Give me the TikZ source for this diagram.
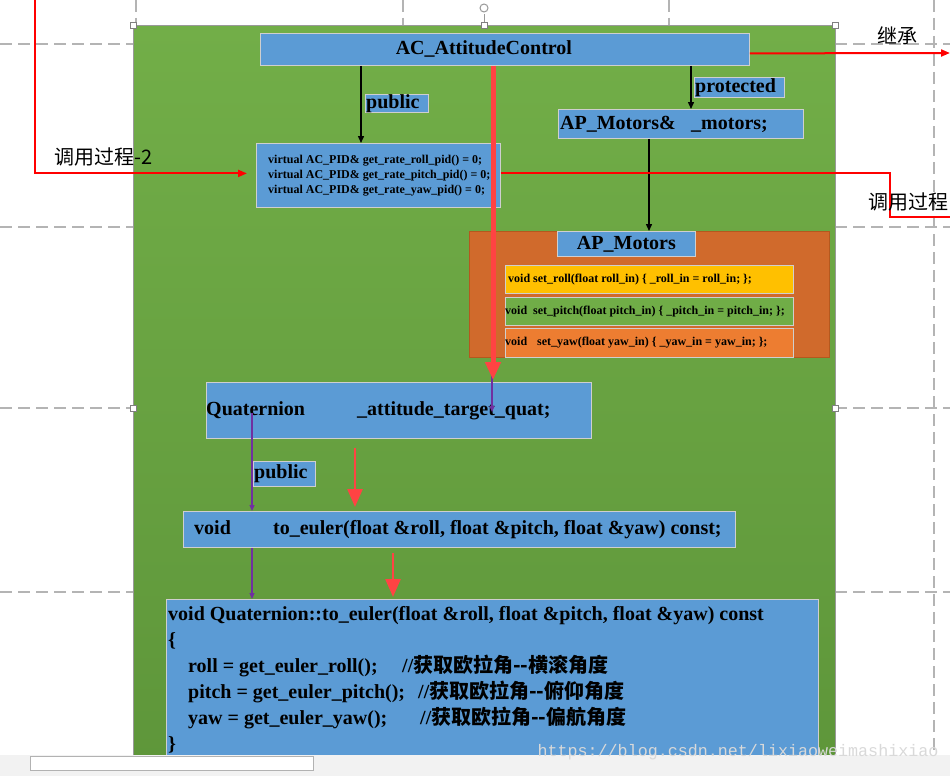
\documentclass[tikz,border=0pt]{standalone}
\usepackage{fontspec}
\setmainfont{Liberation Serif}
\setmonofont{Liberation Mono}
\newfontfamily\cjkfont{Noto Sans CJK SC}
\usetikzlibrary{arrows.meta,positioning,calc}
\definecolor{boxblue}{HTML}{5B9BD5}
\definecolor{boxedge}{HTML}{CFCFCF}
\definecolor{leafhi}{HTML}{72AE48}
\definecolor{leaflo}{HTML}{5E963A}
\definecolor{rustbox}{HTML}{D06A2C}
\definecolor{rustedge}{HTML}{B4581E}
\definecolor{rollyellow}{HTML}{FFC000}
\definecolor{pitchgreen}{HTML}{70AD47}
\definecolor{yaworange}{HTML}{ED7D31}
\definecolor{callred}{HTML}{FF0000}
\definecolor{flowred}{HTML}{FF4343}
\definecolor{linkpurple}{HTML}{7030A0}
\definecolor{pagegray}{HTML}{B4B4B4}
\definecolor{stripgray}{HTML}{F2F2F2}

\begin{document}
\begin{tikzpicture}[x=1pt, y=-1pt,
    umlbox/.style={rectangle, draw=boxedge, fill=boxblue, line width=0.8pt,
                   anchor=north west, inner sep=0pt},
    setter/.style={rectangle, draw=boxedge, fill=#1, line width=0.8pt,
                   anchor=north west, inner sep=0pt,
                   minimum width=288pt, minimum height=28pt},
    canvas/.style={rectangle, draw=gray!80, line width=0.8pt, anchor=north west,
                   inner sep=0pt, top color=leafhi, bottom color=leaflo},
    codetext/.style={inner sep=0pt, anchor=west, align=left,
                     font=\fontsize{20}{26}\selectfont\bfseries},
    smalltext/.style={inner sep=0pt, anchor=west, align=left,
                      font=\fontsize{12}{15}\selectfont\bfseries},
    cjklabel/.style={inner sep=0pt, font=\fontsize{20}{24}\selectfont\cjkfont},
    member/.style={-{Triangle[length=7pt,width=6pt]}, line width=1.4pt, black},
    access/.style={-{Triangle[length=6pt,width=5pt]}, line width=1.2pt, linkpurple},
    callpath/.style={line width=2pt, callred},
    call/.style={callpath, -{Triangle[length=9pt,width=7pt]}},
    flow/.style={-{Triangle[length=18pt,width=15pt]}, line width=#1, flowred},
    guide/.style={pagegray, line width=1.2pt, dash pattern=on 12pt off 6pt},
    handle/.style={rectangle, draw=gray, fill=white, line width=0.6pt,
                   minimum size=6pt, inner sep=0pt},
]
    \useasboundingbox (0,0) rectangle (950,776);
    \fill[white] (0,0) rectangle (950,776);

    % Page guides
    \foreach \y in {44,227,408,592} {
        \draw[guide] (0,\y) -- (133,\y);
        \draw[guide] (835,\y) -- (950,\y);
    }
    \foreach \x in {136,403,669}
        \draw[guide] (\x,0) -- (\x,25);
    \draw[guide] (934,0) -- (934,755);

    % Canvas
    \node[canvas, minimum width=702pt, minimum height=740pt] (canvas) at (133,25) {};

    % AC_AttitudeControl and its members
    \node[umlbox, minimum width=489pt, minimum height=32pt] (acc) at (260,33) {};
    \node[codetext, anchor=center] (acctitle) at ([xshift=-21pt]acc.center) {AC\_AttitudeControl};

    \node[umlbox, minimum width=244pt, minimum height=64pt] (vpid) at (256,143) {};
    \node[smalltext, right=12pt of vpid.west] (vpidtext)
        {virtual AC\_PID\& get\_rate\_roll\_pid() = 0;\\
         virtual AC\_PID\& get\_rate\_pitch\_pid() = 0;\\
         virtual AC\_PID\& get\_rate\_yaw\_pid() = 0;};

    \node[umlbox, minimum width=63pt, minimum height=18pt] (pubtag) at (365,94) {};
    \node[codetext, right=1pt of pubtag.west] (pubtext) {public};

    \node[umlbox, minimum width=90pt, minimum height=20pt] (prottag) at (694,77) {};
    \node[codetext, right=1pt of prottag.west] (prottext) {protected};

    \node[umlbox, minimum width=245pt, minimum height=29pt] (motref) at (558,109) {};
    \node[codetext, right=2pt of motref.west] (motreftext)
        {\makebox[131pt][l]{AP\_Motors\&}\_motors;};

    % AP_Motors
    \node[rectangle, draw=rustedge, fill=rustbox, line width=0.8pt, anchor=north west,
          minimum width=360pt, minimum height=126pt, inner sep=0pt] (motors) at (469,231) {};
    \node[umlbox, minimum width=138pt, minimum height=25pt] (motorstag) at (557,231) {};
    \node[codetext, anchor=center] (motorstext) at (motorstag.center) {AP\_Motors};

    \node[setter=rollyellow] (roll) at (505,265) {};
    \node[smalltext, right=3pt of roll.west] (rolltext)
        {void set\_roll(float roll\_in) \{ \_roll\_in = roll\_in; \};};
    \node[setter=pitchgreen] (pitch) at (505,297) {};
    \node[smalltext, right=0pt of pitch.west] (pitchtext)
        {\makebox[28pt][l]{void}set\_pitch(float pitch\_in) \{ \_pitch\_in = pitch\_in; \};};
    \node[setter=yaworange, minimum height=29pt] (yaw) at (505,328) {};
    \node[smalltext, right=0pt of yaw.west] (yawtext)
        {\makebox[32pt][l]{void}set\_yaw(float yaw\_in) \{ \_yaw\_in = yaw\_in; \};};

    % Quaternion
    \node[umlbox, minimum width=385pt, minimum height=56pt] (quat) at (206,382) {};
    \node[codetext, right=0pt of quat.west] (quattext)
        {\makebox[151pt][l]{Quaternion}\_attitude\_target\_quat;};

    \node[umlbox, minimum width=62pt, minimum height=25pt] (pubtag2) at (253,461) {};
    \node[codetext, right=1pt of pubtag2.west] (pubtext2) {public};

    \node[umlbox, minimum width=552pt, minimum height=36pt] (tone) at (183,511) {};
    \node[codetext, right=11pt of tone.west] (tonetext)
        {\makebox[79pt][l]{void}to\_euler(float \&roll, float \&pitch, float \&yaw) const;};

    \node[umlbox, minimum width=652pt, minimum height=170pt] (code) at (166,599) {};
    \node[codetext, anchor=north west] (codetext) at (168,606)
        {void Quaternion::to\_euler(float \&roll, float \&pitch, float \&yaw) const\\
         \{\\
         \hspace*{20pt}\makebox[214pt][l]{roll = get\_euler\_roll();}//{\cjkfont 获取欧拉角-{}-横滚角度}\\
         \hspace*{20pt}\makebox[230pt][l]{pitch = get\_euler\_pitch();}//{\cjkfont 获取欧拉角-{}-俯仰角度}\\
         \hspace*{20pt}\makebox[232pt][l]{yaw = get\_euler\_yaw();}//{\cjkfont 获取欧拉角-{}-偏航角度}\\
         \}};

    % Members
    \coordinate (pubx) at (361,0);
    \coordinate (protx) at (691,0);
    \coordinate (motx) at (649,0);
    \draw[member] (acc.south -| pubx) -- (vpid.north -| pubx);
    \draw[member] (acc.south -| protx) -- (motref.north -| protx);
    \draw[member] (motref.south -| motx) -- (motors.north -| motx);

    % Access path
    \coordinate (quatx) at (492,0);
    \coordinate (quatin) at (492,412);
    \coordinate (eulerin) at (252,413);
    \draw[access] (acc.south -| quatx) -- (quatin);
    \draw[access] (eulerin) -- (tone.north -| eulerin);
    \draw[access] (tone.south -| eulerin) -- (code.north -| eulerin);

    % Call flow
    \coordinate (flowx) at (493,0);
    \coordinate (flowa) at (355,448);
    \coordinate (flowb) at (393,553);
    \draw[flow=5pt] (acc.south -| flowx) -- ($(quat.north -| flowx)+(0,-2)$);
    \draw[flow=2.5pt] (flowa) -- ($(tone.north -| flowa)+(0,-4)$);
    \draw[flow=2.5pt] (flowb) -- ($(code.north -| flowb)+(0,-2)$);

    % Calls and inheritance
    \coordinate (calltop) at (35,0);
    \draw[call] (calltop) |- ($(vpid.west)+(-9,-2)$);
    \node[cjklabel, anchor=west] (call2) at (54,157) {调用过程-2};

    \coordinate (inheritend) at (950,53);
    \draw[call] ($(acc.east)+(0,4)$) -- (inheritend);
    \node[cjklabel] (inherit) at (897,36) {继承};

    \coordinate (callturn) at (890,217);
    \coordinate (callend) at (950,217);
    \draw[callpath] ($(vpid.east)+(0,-2)$) -| (callturn) -- (callend);
    \node[cjklabel, anchor=west] (call1) at (868,202) {调用过程};

    % Selection handles
    \foreach \hx/\hy [count=\i] in {133/25, 484/25, 835/25, 133/408, 835/408}
        \node[handle] (h\i) at (\hx,\hy) {};
    \draw[gray!80, line width=0.8pt] (h2.north) -- (484,14);
    \draw[gray!80, line width=1pt] (484,8) circle[radius=4pt];

    % Status strip
    \fill[stripgray] (0,755) rectangle (950,776);
    \draw[gray!60, fill=white, line width=0.8pt] (30,756) rectangle (313,770);
    \node[font=\fontsize{16.7}{18}\selectfont\ttfamily, text=gray!30, inner sep=0pt]
        (mark) at (738,752) {https://blog.csdn.net/lixiaoweimashixiao};
\end{tikzpicture}
\end{document}
